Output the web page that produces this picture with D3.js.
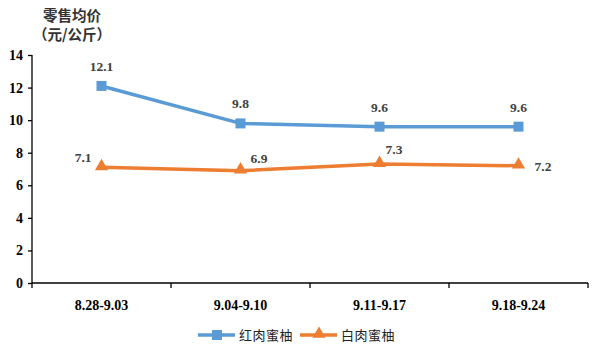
<!DOCTYPE html>
<html>
<head>
<meta charset="utf-8">
<script src="https://cdn.jsdelivr.net/npm/d3@7"></script>
<style>
  html, body { margin: 0; padding: 0; background: #fff; }
  svg { display: block; }
</style>
</head>
<body>
<svg id="chart" width="600" height="347"></svg>
<script>
// Weekly periods and average retail prices (yuan / kg)
const periods = ["8.28-9.03", "9.04-9.10", "9.11-9.17", "9.18-9.24"];
const redPomelo = [12.1, 9.8, 9.6, 9.6];
const whitePomelo = [7.1, 6.9, 7.3, 7.2];
const yTicks = [0, 2, 4, 6, 8, 10, 12, 14];
const seriesNames = ["红肉蜜柚", "白肉蜜柚"];

// where each value label sits relative to its point
const redLabelSide = ["above", "above", "above", "above"];
const whiteLabelSide = ["left", "upright", "upright2", "right"];

const svg = d3.select("#chart");
const margin = { left: 32, right: 12, top: 55, bottom: 64 };
const W = 600, H = 347;

const x = d3.scaleBand().domain(periods).range([margin.left, W - margin.right]);
const y = d3.scaleLinear().domain([0, 14]).range([H - margin.bottom, margin.top]);

const serif = "'Liberation Serif', 'Times New Roman', serif";
const cjk = "'Noto Sans CJK SC', sans-serif";

// y axis
const yAxis = svg.append("g")
  .attr("transform", `translate(${margin.left},0)`)
  .call(d3.axisLeft(y).tickValues(yTicks).tickSize(4).tickPadding(5).tickFormat(d3.format("d")));
yAxis.select(".domain").attr("stroke", "#000").attr("stroke-width", 1.3)
  .attr("d", `M0,${y(14)}V${y(0) + 5}`);
yAxis.selectAll(".tick line").attr("stroke", "#000").attr("stroke-width", 1.3);
yAxis.selectAll(".tick text").attr("font-family", serif).attr("font-weight", "bold")
  .attr("font-size", 14).attr("fill", "#000");

// x axis with ticks on band boundaries
const xAxisG = svg.append("g").attr("transform", `translate(0,${y(0)})`);
xAxisG.append("line").attr("x1", margin.left).attr("x2", W - margin.right)
  .attr("stroke", "#000").attr("stroke-width", 1.3);
const bounds = periods.map(p => x(p) + x.bandwidth());
xAxisG.selectAll("line.tk").data(bounds).join("line").attr("class", "tk")
  .attr("x1", d => d).attr("x2", d => d).attr("y1", 0).attr("y2", 5)
  .attr("stroke", "#000").attr("stroke-width", 1.3);
xAxisG.selectAll("text").data(periods).join("text")
  .attr("x", d => x(d) + x.bandwidth() / 2).attr("y", 27)
  .attr("text-anchor", "middle").attr("font-family", serif).attr("font-weight", "bold")
  .attr("font-size", 14).attr("fill", "#000").text(d => d);

// axis title
svg.append("text").attr("x", 72).attr("y", 21).attr("text-anchor", "middle")
  .attr("font-family", cjk).attr("font-size", 14.5).attr("font-weight", "bold").attr("fill", "#333")
  .text("零售均价");
svg.append("text").attr("x", 72).attr("y", 40).attr("text-anchor", "middle")
  .attr("font-family", cjk).attr("font-size", 14.5).attr("font-weight", "bold").attr("fill", "#333")
  .text("（元/公斤）");

const cx = (d, i) => x(periods[i]) + x.bandwidth() / 2;
const line = d3.line().x(cx).y(d => y(d));

const blue = "#5B9BD5", orange = "#ED7D31";

// red-flesh pomelo
svg.append("path").datum(redPomelo).attr("d", line)
  .attr("fill", "none").attr("stroke", blue).attr("stroke-width", 3.5).attr("stroke-linejoin", "round");
svg.selectAll("rect.pt").data(redPomelo).join("rect").attr("class", "pt")
  .attr("x", (d, i) => cx(d, i) - 5).attr("y", d => y(d) - 5)
  .attr("width", 10).attr("height", 10).attr("fill", blue);

// white-flesh pomelo
const tri = d3.symbol().type(d3.symbolTriangle).size(75);
svg.append("path").datum(whitePomelo).attr("d", line)
  .attr("fill", "none").attr("stroke", orange).attr("stroke-width", 3.5).attr("stroke-linejoin", "round");
svg.selectAll("path.tri").data(whitePomelo).join("path").attr("class", "tri")
  .attr("d", tri).attr("transform", (d, i) => `translate(${cx(d, i)},${y(d) - 1})`)
  .attr("fill", orange);

// value labels
const offsets = {
  above: [0, -15, "middle"],
  left: [-10, -5, "end"],
  upright: [10, -8, "start"],
  upright2: [6, -10, "start"],
  right: [16, 5, "start"]
};
function labels(data, sides, cls) {
  svg.selectAll("text." + cls).data(data).join("text").attr("class", cls)
    .attr("x", (d, i) => cx(d, i) + offsets[sides[i]][0])
    .attr("y", d => y(d))
    .attr("dy", (d, i) => offsets[sides[i]][1])
    .attr("text-anchor", (d, i) => offsets[sides[i]][2])
    .attr("font-family", serif).attr("font-weight", "bold").attr("font-size", 13.5)
    .attr("fill", "#404040").text(d => d3.format(".1f")(d));
}
labels(redPomelo, redLabelSide, "lr");
labels(whitePomelo, whiteLabelSide, "lw");

// legend
const lg = svg.append("g").attr("transform", "translate(198,335)");
const legendColors = [blue, orange];
const item = lg.selectAll("g").data(seriesNames).join("g")
  .attr("transform", (d, i) => `translate(${i * 102},0)`);
item.append("line").attr("x1", 0).attr("x2", 37).attr("stroke", (d, i) => legendColors[i]).attr("stroke-width", 3.5);
item.filter((d, i) => i === 0).append("rect").attr("x", 14).attr("y", -5).attr("width", 10).attr("height", 10).attr("fill", blue);
item.filter((d, i) => i === 1).append("path").attr("d", tri).attr("transform", "translate(19,-1)").attr("fill", orange);
item.append("text").attr("x", 41).attr("y", 5).attr("font-family", cjk).attr("font-size", 13)
  .attr("letter-spacing", 0.5).attr("fill", "#222").text(d => d);
</script>
</body>
</html>
